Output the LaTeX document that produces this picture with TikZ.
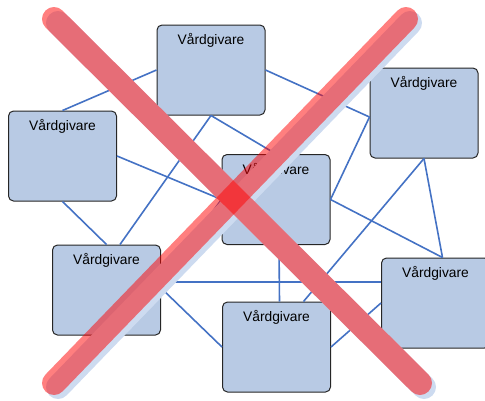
\documentclass[tikz,border=0pt]{standalone}
\usepackage{fontspec}
\setmainfont{Liberation Sans}
\usetikzlibrary{calc}

\definecolor{boxblue}{RGB}{184,202,228}
\definecolor{linkblue}{RGB}{68,114,196}
\definecolor{crossred}{RGB}{255,0,0}
\definecolor{shadeblue}{RGB}{205,219,240}

\begin{document}
\begin{tikzpicture}[x=1pt, y=-1pt,
    vbox/.style={draw=black!85, line width=1pt, fill=boxblue, rounded corners=5pt,
                 minimum width=108pt, minimum height=90pt, inner sep=0pt},
    link/.style={linkblue, line width=1.6pt},
    xbar/.style={crossred, opacity=0.5, line width=24pt, line cap=round},
    xshade/.style={shadeblue, line width=24pt, line cap=round}]

  \useasboundingbox (0,0) rectangle (485,400);

  %draw boxes
  \foreach \name/\x/\y in {A/211/70, B/62.5/156, C/276/199.5, D/424/113, E/106.5/290, F/276.5/347, G/435.5/303}{
      \node[vbox, label={[anchor=base, yshift=-20pt, font=\fontsize{13.8}{16}\selectfont]north:Vårdgivare}] (\name) at (\x,\y) {};
  }

  %links
  \coordinate (Eh) at ([yshift=8pt]E.east);
  \draw[link] (A.west) -- (B.north);
  \draw[link] (A.south) -- ([xshift=13.5pt]E.north);
  \draw[link] (A.south) -- (C.north);
  \draw[link] (A.east) -- ([yshift=-4pt]D.west);
  \draw[link] (B.east) -- (C.west);
  \draw[link] (B.south) -- (E.north);
  \draw[link] (Eh) -- (C.west);
  \draw[link] (Eh) -- (Eh -| G.west);
  \draw[link] ([yshift=2pt]E.east) -- (F.west);
  \draw[link] (C.east) -- ([yshift=-4pt]D.west);
  \draw[link] (C.east) -- ([xshift=7pt]G.north);
  \draw[link] ([xshift=3pt]C.south) -- ([xshift=3pt]F.north);
  \draw[link] (D.south) -- ([xshift=27pt]F.north);
  \draw[link] (D.south) -- ([xshift=7pt]G.north);
  \draw[link] (F.east) -- (G.west);

  %big cross
  \coordinate (X1) at (54,19);
  \coordinate (X2) at (420,383);
  \coordinate (X3) at (54,383);
  \coordinate (X4) at (406,19);
  \draw[xshade] ([shift={(4pt,-4pt)}]X1) -- ([shift={(4pt,-4pt)}]X2);
  \draw[xshade] ([shift={(4pt,-4pt)}]X3) -- ([shift={(4pt,-4pt)}]X4);
  \draw[xbar] (X1) -- (X2);
  \draw[xbar] (X3) -- (X4);

\end{tikzpicture}
\end{document}
